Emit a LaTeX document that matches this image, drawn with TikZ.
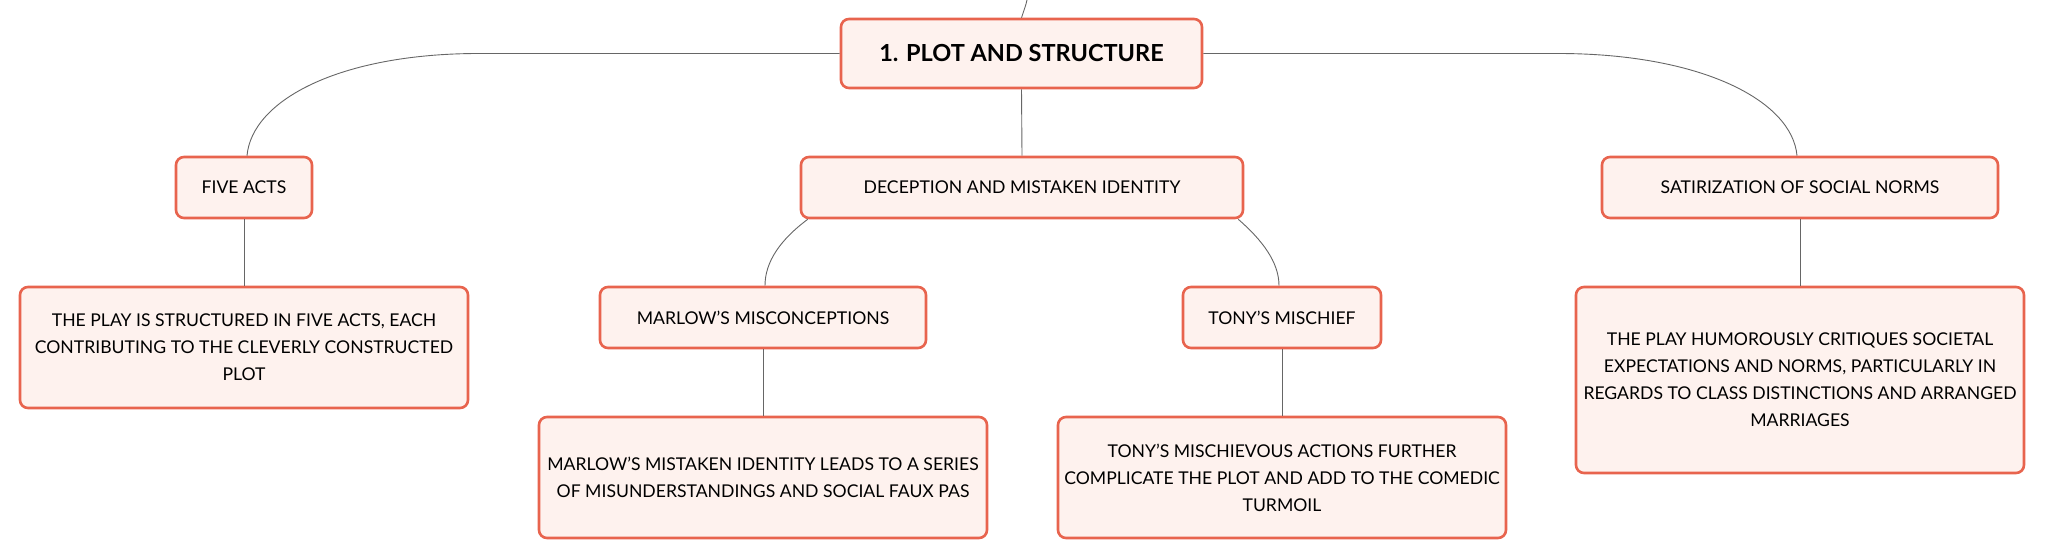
\documentclass[tikz,border=0pt]{standalone}
\usepackage{fontspec}
\setmainfont{Lato}
\definecolor{bordc}{HTML}{E8644E}
\definecolor{fillc}{HTML}{FEF2EE}
\definecolor{linec}{HTML}{666666}
\begin{document}
\begin{tikzpicture}[x=1pt,y=-1pt,
  box/.style={draw=bordc,fill=fillc,line width=2.6pt,rounded corners=8pt,
    inner sep=0pt,align=center,font=\fontsize{17.6}{27}\selectfont},
  conn/.style={draw=linec,line width=0.9pt}]
\useasboundingbox (0,0) rectangle (2046,559);
\node[box,minimum width=361,minimum height=69,font=\fontsize{23.5}{28}\selectfont\bfseries] (root) at (1021.5,53.5) {1. PLOT AND STRUCTURE};
\node[box,minimum width=136,minimum height=61] (five) at (244,187.5) {FIVE ACTS};
\node[box,minimum width=442,minimum height=61] (dec) at (1022,187.5) {DECEPTION AND MISTAKEN IDENTITY};
\node[box,minimum width=396,minimum height=61] (sat) at (1800,187.5) {SATIRIZATION OF SOCIAL NORMS};
\node[box,minimum width=448,minimum height=121] (fived) at (244,347.5) {THE PLAY IS STRUCTURED IN FIVE ACTS, EACH\\CONTRIBUTING TO THE CLEVERLY CONSTRUCTED\\PLOT};
\node[box,minimum width=326,minimum height=61] (mar) at (763,317.5) {MARLOW'S MISCONCEPTIONS};
\node[box,minimum width=198,minimum height=61] (tony) at (1282,317.5) {TONY'S MISCHIEF};
\node[box,minimum width=448,minimum height=121] (mard) at (763,477.5) {MARLOW'S MISTAKEN IDENTITY LEADS TO A SERIES\\OF MISUNDERSTANDINGS AND SOCIAL FAUX PAS};
\node[box,minimum width=448,minimum height=121] (tonyd) at (1282,477.5) {TONY'S MISCHIEVOUS ACTIONS FURTHER\\COMPLICATE THE PLOT AND ADD TO THE COMEDIC\\TURMOIL};
\node[box,minimum width=448,minimum height=186] (satd) at (1800,380) {THE PLAY HUMOROUSLY CRITIQUES SOCIETAL\\EXPECTATIONS AND NORMS, PARTICULARLY IN\\REGARDS TO CLASS DISTINCTIONS AND ARRANGED\\MARRIAGES};
\coordinate (up) at (1027,0);
\coordinate (lk) at (479,53.5);
\coordinate (rk) at (1558,53.5);
\draw[conn] (root.north) .. controls (1024,10) and (1026,5) .. (up);
\draw[conn] (root.west) -- (lk) .. controls (340,53.5) and (252,100) .. ([xshift=3]five.north);
\draw[conn] (root.east) -- (rk) .. controls (1700,53.5) and (1792,100) .. ([xshift=-3]sat.north);
\draw[conn] (root.south) -- (dec.north);
\draw[conn] (five.south) -- (fived.north);
\draw[conn] (sat.south) -- (satd.north);
\draw[conn] ([xshift=8]dec.south west) .. controls (780,240) and (765,262) .. ([xshift=2]mar.north);
\draw[conn] ([xshift=-6]dec.south east) .. controls (1262,240) and (1279,262) .. ([xshift=-3]tony.north);
\draw[conn] (mar.south) -- (mard.north);
\draw[conn] (tony.south) -- (tonyd.north);
\end{tikzpicture}
\end{document}
